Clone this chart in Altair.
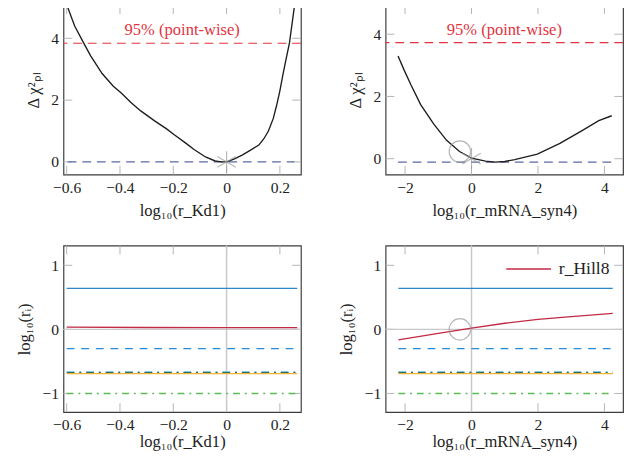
import altair as alt
import pandas as pd

# ---------------- data ----------------
# top-left profile: log10(r_Kd1) vs delta chi2
tl_x = [-0.596, -0.57, -0.54, -0.51, -0.467, -0.425, -0.395, -0.36, -0.322, -0.27,
        -0.225, -0.195, -0.152, -0.122, -0.079, -0.043, -0.02, 0.0, 0.03, 0.06,
        0.09, 0.121, 0.14, 0.157, 0.175, 0.187, 0.2, 0.212, 0.225, 0.236, 0.254]
tl_y = [5.0, 4.4, 3.91, 3.43, 2.86, 2.45, 2.23, 1.93, 1.65, 1.33,
        1.07, 0.87, 0.6, 0.4, 0.16, 0.03, 0.0, 0.0, 0.1, 0.23,
        0.38, 0.545, 0.75, 1.0, 1.4, 1.8, 2.3, 2.85, 3.4, 3.85, 5.0]
# top-right profile: log10(r_mRNA_syn4) vs delta chi2
tr_x = [-2.21, -2.02, -1.82, -1.53, -1.14, -0.75, -0.36, 0.0, 0.42, 0.71, 1.0,
        1.3, 1.98, 2.66, 3.34, 3.83, 4.22]
tr_y = [3.30, 2.83, 2.37, 1.74, 1.12, 0.59, 0.23, 0.02, -0.08, -0.11, -0.09,
        -0.03, 0.15, 0.49, 0.91, 1.22, 1.38]
tl_min = 0.0
tr_min = -0.11
chi2_95 = 3.84
tl_star = (0.0, 0.0)
tr_star = (0.0, 0.0)
tr_circle = (-0.35, 0.23)
br_circle = (-0.35, 0.0)

# bottom panels: parameter trajectories (log10 r_i)
bl_range = [-0.6, 0.265]
br_range = [-2.2, 4.25]
const_names = ["blue", "blue_dashed", "cyan_dashdot", "teal_dashdot", "orange", "green_dashdot"]
const_values = [0.64, -0.30, -0.665, -0.675, -0.69, -1.0]
bl_red_x = [-0.6, -0.3, 0.0, 0.265]
bl_red_y = [0.035, 0.03, 0.027, 0.027]
br_red_x = [-2.2, -1.0, 0.0, 1.0, 2.0, 3.0, 4.25]
br_red_y = [-0.163, -0.063, 0.02, 0.095, 0.155, 0.20, 0.25]
legend_label = "r_Hill8"

# axis ticks / titles
tl_xticks = [-0.6, -0.4, -0.2, 0, 0.2]
tr_xticks = [-2, 0, 2, 4]
top_yticks = [0, 2, 4]
bot_yticks = [-1, 0, 1]
xtitle_l = "log₁₀(r_Kd1)"
xtitle_r = "log₁₀(r_mRNA_syn4)"
ytitle_top = "Δ χ²ₚₗ"
ytitle_bot = "log₁₀(rᵢ)"
ci_label = "95% (point-wise)"

# ---------------- style ----------------
SERIF = "Liberation Serif"
W = 244
HT = 174
HB = 171
TICKLEN = 9
TICK = "#b4b4b4"
CURVE = "#1e1e1e"
RED_DASH = "#e2343f"
BLUE_DASH = "#5a6ba5"
MARK = "#9a9a9a"
ZERO = "#c8c8c8"
STAR = "M0,-1L0,1M-0.866,-0.5L0.866,0.5M-0.866,0.5L0.866,-0.5"
series_style = {
    "blue": ("#2f86c6", None),
    "blue_dashed": ("#2b8ad6", [8, 7]),
    "cyan_dashdot": ("#55b8e8", [8, 5, 2, 5]),
    "teal_dashdot": ("#2f6e5a", [8, 5, 2, 5]),
    "orange": ("#f2b138", None),
    "green_dashdot": ("#5dbb55", [7, 5, 2, 5]),
}
CRIMSON = "#c22a45"


def one():
    return alt.Chart(pd.DataFrame({"k": [0]}))


def encoders(xdom, ydom, xticks, yticks, xtitle, ytitle, xtpad):
    xs = alt.Scale(domain=xdom, nice=False, zero=False)
    ys = alt.Scale(domain=ydom, nice=False, zero=False)
    xa = alt.Axis(values=xticks, title=xtitle, format="~g", titlePadding=xtpad)
    ya = alt.Axis(values=yticks, title=ytitle, format="~g")
    X = lambda f: alt.X(f, type="quantitative", scale=xs, axis=xa)
    Y = lambda f: alt.Y(f, type="quantitative", scale=ys, axis=ya)
    return X, Y


def tick_layers(X, Y, h, xticks, yticks):
    xt = alt.Chart(pd.DataFrame({"x": xticks}))
    yt = alt.Chart(pd.DataFrame({"y": yticks}))
    return [
        xt.mark_rule(color=TICK, strokeWidth=1).encode(x=X("x"), y=alt.value(h), y2=alt.value(h - TICKLEN)),
        xt.mark_rule(color=TICK, strokeWidth=1).encode(x=X("x"), y=alt.value(0), y2=alt.value(TICKLEN)),
        yt.mark_rule(color=TICK, strokeWidth=1).encode(y=Y("y"), x=alt.value(0), x2=alt.value(TICKLEN)),
        yt.mark_rule(color=TICK, strokeWidth=1).encode(y=Y("y"), x=alt.value(W - TICKLEN), x2=alt.value(W)),
    ]


def top_panel(cx, cy, ymin_line, ydom, xdom, xticks, xtitle, star, circle=None):
    X, Y = encoders(xdom, ydom, xticks, top_yticks, xtitle, ytitle_top, 8)
    df = pd.DataFrame({"x": cx, "y": cy})
    layers = tick_layers(X, Y, HT, xticks, top_yticks)
    layers += [
        one().mark_rule(color=RED_DASH, strokeWidth=1.2, strokeDash=[9, 6]).encode(y=alt.datum(ymin_line + chi2_95)),
        one().mark_text(color=RED_DASH, font=SERIF, fontSize=17, baseline="bottom", dy=-4).encode(
            x=alt.value(W / 2), y=alt.datum(ymin_line + chi2_95), text=alt.value(ci_label)),
        one().mark_rule(color=BLUE_DASH, strokeWidth=1.2, strokeDash=[9, 6]).encode(
            x=alt.datum(min(cx)), x2=alt.datum(max(cx)), y=alt.datum(ymin_line)),
        alt.Chart(df).mark_line(color=CURVE, strokeWidth=1.4, clip=True).encode(x=X("x"), y=Y("y")),
    ]
    sdf = pd.DataFrame({"x": [star[0]], "y": [star[1]]})
    layers.append(alt.Chart(sdf).mark_point(shape=STAR, size=484, filled=False, stroke=MARK, strokeWidth=1.2)
                  .encode(x=X("x"), y=Y("y")))
    if circle is not None:
        cdf = pd.DataFrame({"x": [circle[0]], "y": [circle[1]]})
        layers.append(alt.Chart(cdf).mark_point(shape="circle", size=484, filled=False, stroke=MARK, strokeWidth=1.2)
                      .encode(x=X("x"), y=Y("y")))
    return alt.layer(*layers).properties(width=W, height=HT)


def bottom_panel(xr, xdom, xticks, xtitle, red_x, red_y, legend=False, circle=None):
    ydom = [-1.29, 1.307]
    X, Y = encoders(xdom, ydom, xticks, bot_yticks, xtitle, ytitle_bot, 1)
    layers = tick_layers(X, Y, HB, xticks, bot_yticks)
    layers += [
        one().mark_rule(color=ZERO, strokeWidth=1.5).encode(y=alt.datum(0)),
        one().mark_rule(color=ZERO, strokeWidth=1.5).encode(x=alt.datum(0)),
    ]
    for name, val in zip(const_names, const_values):
        col, dash = series_style[name]
        d = pd.DataFrame({"x": xr, "y": [val, val]})
        kw = dict(color=col, strokeWidth=1.4)
        if dash is not None:
            kw["strokeDash"] = dash
        layers.append(alt.Chart(d).mark_line(**kw).encode(x=X("x"), y=Y("y")))
    rdf = pd.DataFrame({"x": red_x, "y": red_y, "s": [legend_label] * len(red_x)})
    if legend:
        layers.append(alt.Chart(rdf).mark_line(strokeWidth=1.4).encode(
            x=X("x"), y=Y("y"),
            color=alt.Color("s:N", scale=alt.Scale(domain=[legend_label], range=[CRIMSON]),
                            legend=alt.Legend(title=None, orient="none", legendX=123, legendY=0,
                                              symbolType="stroke", symbolSize=2116, symbolStrokeWidth=1.4,
                                              labelFont=SERIF, labelFontSize=18, labelColor="#222",
                                              labelOffset=7, padding=0))))
    else:
        layers.append(alt.Chart(rdf).mark_line(color=CRIMSON, strokeWidth=1.4).encode(x=X("x"), y=Y("y")))
    if circle is not None:
        cdf = pd.DataFrame({"x": [circle[0]], "y": [circle[1]]})
        layers.append(alt.Chart(cdf).mark_point(shape="circle", size=484, filled=False, stroke=MARK, strokeWidth=1.2)
                      .encode(x=X("x"), y=Y("y")))
    return alt.layer(*layers).properties(width=W, height=HB)


XDOM_L = [-0.612, 0.279]
XDOM_R = [-2.585, 4.56]

tl = top_panel(tl_x, tl_y, tl_min, [-0.41, 5.07], XDOM_L, tl_xticks, xtitle_l, tl_star)
tr = top_panel(tr_x, tr_y, tr_min, [-0.51, 4.93], XDOM_R, tr_xticks, xtitle_r, tr_star, tr_circle)
bl = bottom_panel(bl_range, XDOM_L, tl_xticks, xtitle_l, bl_red_x, bl_red_y)
br = bottom_panel(br_range, XDOM_R, tr_xticks, xtitle_r, br_red_x, br_red_y, legend=True, circle=br_circle)

chart = alt.concat(
    tl, tr, bl, br, columns=2, spacing={"row": 73, "column": 87}, bounds="flush"
).resolve_scale(color="independent").resolve_legend(color="independent").properties(
    padding={"left": 7, "top": -11, "right": 0, "bottom": 0}
).configure_view(
    stroke="#3c3c3c", strokeWidth=1.2
).configure_axis(
    labelFont=SERIF, labelFontSize=16, labelColor="#222",
    titleFont=SERIF, titleFontSize=17, titleFontWeight="normal", titleColor="#222",
    ticks=False, tickSize=0, domain=False, grid=False, labelPadding=5
).configure_axisY(titlePadding=9)

chart.save("out.html", embed_options={"renderer": "svg", "actions": False})
